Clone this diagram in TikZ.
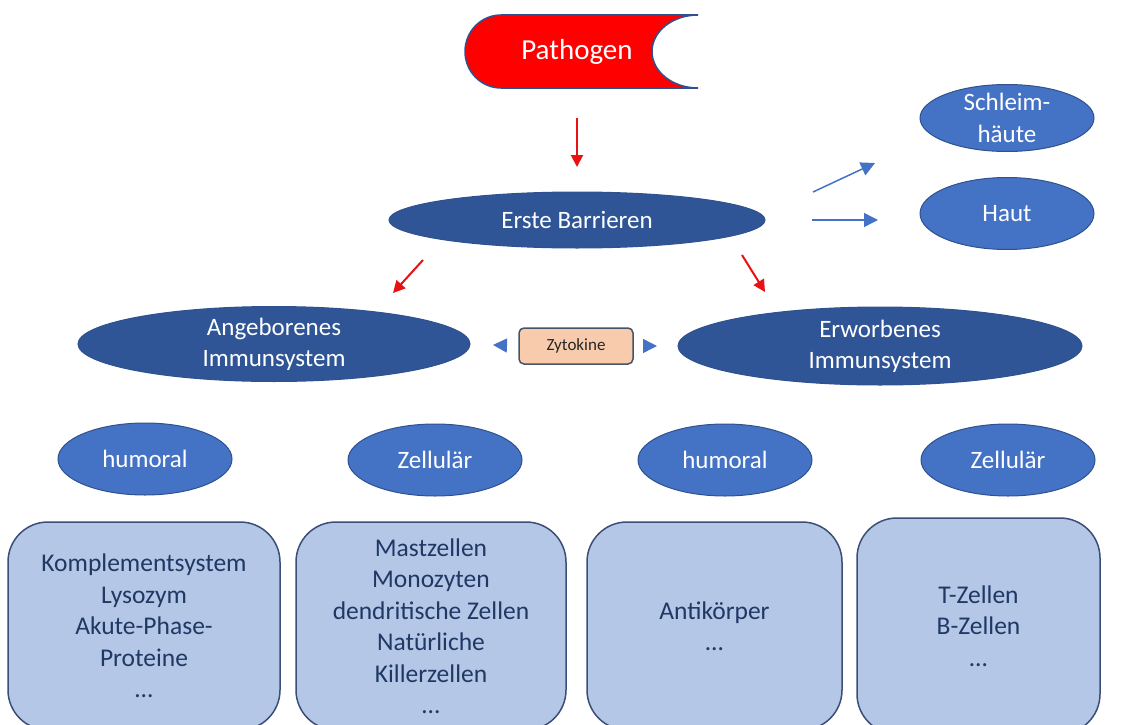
\documentclass[tikz,border=0pt]{standalone}
\usepackage{fontspec}
\setmainfont{Carlito}
\usetikzlibrary{arrows.meta,shapes.geometric,positioning}

\definecolor{darkell}{RGB}{47,85,151}
\definecolor{lightell}{RGB}{68,114,196}
\definecolor{ellborder}{RGB}{47,82,143}
\definecolor{boxfill}{RGB}{180,199,231}
\definecolor{boxborder}{RGB}{60,78,120}
\definecolor{boxtext}{RGB}{31,56,100}
\definecolor{zytfill}{RGB}{248,203,173}
\definecolor{zytborder}{RGB}{68,84,106}
\definecolor{arrowred}{RGB}{232,18,18}

\tikzset{
    bigell/.style={ellipse, fill=darkell, draw=ellborder, line width=1pt, text=white,
        inner sep=0pt, outer sep=0pt, align=center, font=\fontsize{25}{31}\selectfont},
    smallell/.style={ellipse, fill=lightell, draw=ellborder, line width=1pt, text=white,
        inner sep=0pt, outer sep=0pt, align=center, minimum width=174pt, minimum height=72pt,
        font=\fontsize{25}{32}\selectfont},
    listbox/.style={rectangle, rounded corners=40pt, fill=boxfill, draw=boxborder, line width=1.5pt,
        text=boxtext, align=center, minimum height=208pt, font=\fontsize{25.5}{31.5}\selectfont},
    zytbox/.style={rectangle, rounded corners=5pt, fill=zytfill, draw=zytborder, line width=1.5pt,
        minimum width=114pt, minimum height=36pt, outer sep=0pt, text=black!85,
        font=\fontsize{17}{20}\selectfont},
    redarrow/.style={-{Triangle[length=12pt,width=12pt]}, arrowred, line width=2pt},
    bluearrow/.style={-{Triangle[length=14pt,width=14pt]}, lightell, line width=1.5pt},
}

\begin{document}
\begin{tikzpicture}[x=1pt, y=1pt]
    \useasboundingbox (0,0) rectangle (1132,-725);
    \clip (0,0) rectangle (1132,-725);

    % pathogen shape
    \draw[fill=red, draw=ellborder, line width=1.5pt] (698,-15) -- (501,-15)
        arc[start angle=90, end angle=270, x radius=36pt, y radius=36.5pt] -- (698,-88)
        arc[start angle=270, end angle=90, x radius=46pt, y radius=36.5pt];
    \node[text=white, minimum height=73pt, outer sep=0pt, font=\fontsize{29}{34}\selectfont] (pat) at (577,-51.5) {Pathogen};

    \node[bigell, minimum width=376pt, minimum height=56pt] (erste) at (577,-220) {Erste Barrieren};
    \draw[redarrow, shorten <=30pt, shorten >=25pt] (pat.south) -- (erste.north);

    \node[smallell, minimum height=67pt, inner ysep=-4pt] (schleim) at (1007,-118) {Schleim-\\häute};
    \node[smallell, below=26pt of schleim] (haut) {Haut};

    \coordinate (bs) at (813,-192); \coordinate (bt) at (875,-163);
    \draw[bluearrow] (bs) -- (bt);
    \draw[bluearrow, shorten <=47pt, shorten >=42pt] (erste.east) -- (erste.east -| haut.west);

    \node[bigell, minimum width=392pt, minimum height=75pt] (angeb) at (274,-344) {Angeborenes\\Immunsystem};
    \node[bigell, minimum width=404pt, minimum height=78pt] (erw) at (880,-346) {Erworbenes\\Immunsystem};

    \coordinate (rl1) at (423,-260); \coordinate (rl2) at (393,-293);
    \coordinate (rr1) at (742,-255); \coordinate (rr2) at (765,-292);
    \draw[redarrow] (rl1) -- (rl2);
    \draw[redarrow] (rr1) -- (rr2);

    \node[zytbox] (zyt) at (576,-346) {Zytokine};
    \draw[bluearrow, shorten <=12pt, shorten >=23pt] (zyt.west) -- (angeb.east);
    \draw[bluearrow, shorten <=12pt, shorten >=21pt] (zyt.east) -- (erw.west);

    \node[smallell] (hum1) at (145,-459) {humoral};
    \node[smallell] (zel1) at (435,-460) {Zellulär};
    \node[smallell] (hum2) at (725,-460) {humoral};
    \node[smallell] (zel2) at (1008,-460) {Zellulär};

    \node[listbox, minimum width=272pt] (box1) at (144,-626)
        {Komplementsystem\\Lysozym\\Akute-Phase-\\Proteine\\…};
    \node[listbox, minimum width=270pt] (box2) at (431,-626)
        {Mastzellen\\Monozyten\\dendritische Zellen\\Natürliche\\Killerzellen\\…};
    \node[listbox, minimum width=255pt] (box3) at (714.5,-626) {Antikörper\\…};
    \node[listbox, minimum width=243pt, minimum height=216pt] (box4) at (978.5,-626)
        {T-Zellen\\B-Zellen\\…};
\end{tikzpicture}
\end{document}
